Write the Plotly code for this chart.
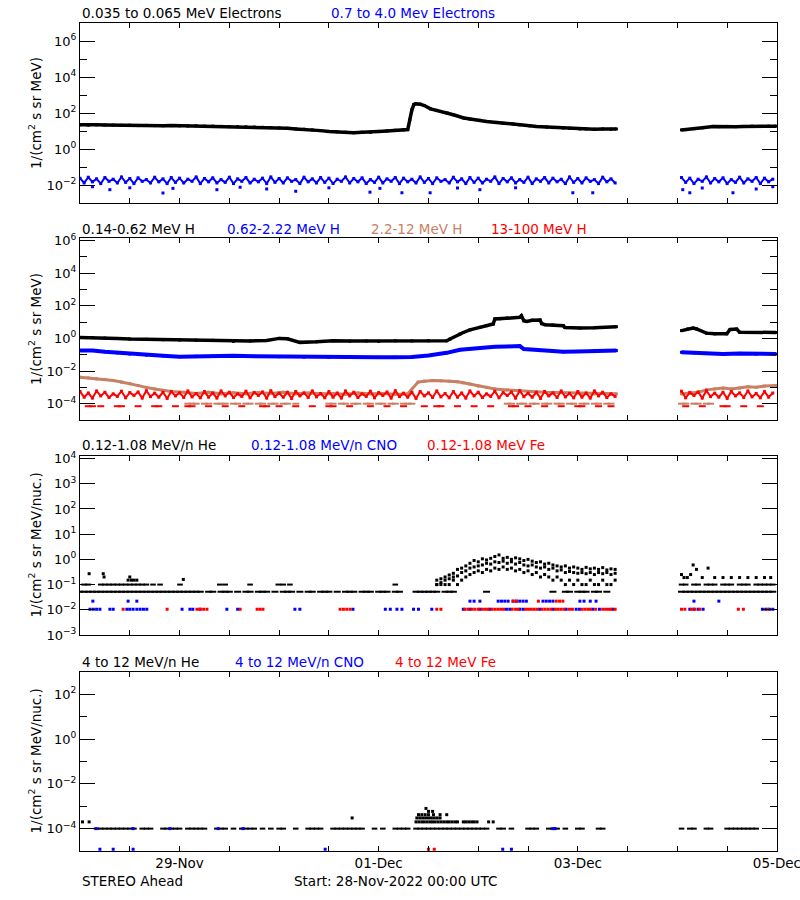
import plotly.graph_objects as go
from datetime import datetime, timedelta

START = datetime(2022, 11, 28)
END = datetime(2022, 12, 5, 0, 1)

# ---------------- DATA (hours since 28-Nov-2022 00:00 UTC) ----------------
T_HOURLY = list(range(0, 130)) + list(range(145, 168))

# Panel 1 : electrons
E_LO_T = [0,2,4,6,8,10,12,14,16,18,20,22,24,26,28,30,32,34,36,38,40,42,44,46,48,50,52,54,56,58,60,62,64,66,68,70,72,74,76,78,
          79,79.5,80,80.5,81,82,83,84.5,86,88.5,90,92.5,94,96.4,98,100.4,102,104.4,106,108.4,110,112.5,114,116.5,118,120.5,122,124,126,128,129.3,
          145,146,148,150,152.6,154,156,158,160,162,164,166,167.8]
E_LO_V = [22,21,22,21.5,21,20.5,21,20,20.5,20,19.5,20,19.5,19,19.5,18.5,18.5,18,17.5,17.5,17,16.5,16,15.5,14.7,14,13,12.5,11.5,10.5,
          9.5,9,8.5,8,8.5,8.5,9.5,10,11,11.5,
          12,42,150,300,330,310,260,170,140,100,80,53,46,39,34,30,27,24.5,22,19.5,18,16.6,15.5,14.7,14,13,13,12.5,13,12.5,13,
          11.5,12,13.5,15,18,17.5,18,17.5,18,18.5,18,18.5,18.5]
E_HI_V = [0.024,0.013,0.027,0.015,0.022,0.012,0.026,0.016,0.021,0.013,
          0.028,0.014,0.023,0.012,0.025,0.016,0.020,0.013,0.027,0.015,
          0.022,0.012,0.026,0.014,0.024,0.013,0.021,0.016,0.028,0.012,
          0.023,0.015,0.025,0.013,0.020,0.014,0.027,0.012,0.022,0.016,
          0.026,0.013,0.021,0.015,0.024,0.012,0.028,0.014,0.023,0.013,
          0.025,0.016,0.020,0.012,0.027,0.015,0.022,0.013,0.026,0.014,
          0.024,0.012,0.021,0.016,0.028,0.013,0.023,0.015,0.025,0.012,
          0.020,0.014,0.027,0.013,0.022,0.016,0.026,0.012,0.024,0.015,
          0.021,0.013,0.028,0.014,0.023,0.012,0.025,0.016,0.020,0.013,
          0.027,0.015,0.022,0.012,0.026,0.014,0.024,0.013,0.021,0.016,
          0.028,0.012,0.023,0.015,0.025,0.013,0.020,0.014,0.027,0.012,
          0.022,0.016,0.026,0.013,0.024,0.015,0.021,0.012,0.028,0.014,
          0.023,0.013,0.025,0.016,0.020,0.012,0.027,0.015,0.022,0.013,
          0.026,0.014,0.024,0.012,0.021,0.016,0.028,0.013,0.023,0.015,
          0.025,0.012,0.020,0.014,0.027,0.013,0.022,0.016,0.026,0.012,0.024,0.015,0.021]
E_HI_STRAY_T = [3,7.2,12,20,22.4,33,38.6,45,52,60,69.9,72.3,77.6,84.4,91,96.4,105,118.8,123.6,145.3,147,150,157.4,163,167]
E_HI_STRAY_V = [0.008,0.0055,0.007,0.0036,0.0065,0.0055,0.0075,0.006,0.0045,0.007,0.004,0.0065,0.0037,0.0037,0.0068,
                0.0055,0.007,0.0037,0.0037,0.0055,0.0037,0.0068,0.0037,0.006,0.008]

# Panel 2 : protons
H1_T = [0,3,6,9,12,16,20,24,28,32,37,41,45,48,50,53,57,61,65,69,72,76,80,84,88.4,89.2,91.6,92.4,94,96.4,
        98,99.6,100,101.2,103,106,106.4,107,107.7,109,110.9,111.3,112.1,114,116.5,116.9,120.5,124,129.3,
        145,146.5,147.8,148.6,151,153,155.9,156.7,158.3,159,162,165,167.8]
H1_V = [1.15,1.12,1.05,0.98,0.91,0.87,0.83,0.8,0.78,0.76,0.66,0.7,0.75,1.0,0.95,0.57,0.62,0.72,0.68,0.7,
        0.66,0.72,0.7,0.72,0.72,0.91,1.86,2.3,3.3,4.7,6.0,7.6,15.4,16,17.5,19.4,24.5,12,11,13,
        13.4,8,6.9,6.6,6.0,4.7,4.3,4.5,5.2,3.0,3.8,4.3,3.8,2.1,1.9,1.9,3.5,3.7,2.4,2.3,2.3,2.3]
H2_T = [0,3,6,9,12,16,20,24,28,32,37,42,48,54,60,66,72,76,80,84,88.4,91.6,94,96.4,100,103,106,107,108,110.9,
        114,116.5,120,124,129.3,145,148,151,155,159,163,167.8]
H2_V = [0.18,0.18,0.15,0.13,0.11,0.095,0.085,0.076,0.08,0.082,0.087,0.08,0.076,0.072,0.069,0.07,0.069,0.069,0.072,0.09,
        0.13,0.2,0.23,0.25,0.31,0.32,0.34,0.22,0.21,0.18,0.16,0.15,0.16,0.17,0.18,0.14,0.13,0.12,0.11,0.12,0.11,0.11]
H3_T = [0,2,4,6,8,10,12,14,16,18,20,22,25,28,31,34,37,40,43,46,49,52,55,58,61,64,67,70,73,76,79,
        81.5,83,85,87,89,91,92.4,94,96,98,100,103,106,109,112,115,118,121,124,127,129.3,
        145,147,149,151,153,155,157,159,161,163,165,167.8]
H3_V = [0.0042,0.0038,0.0033,0.003,0.0026,0.0021,0.0017,0.0013,0.001,0.0008,0.00065,0.00055,
        0.0005,0.00042,0.0005,0.0004,0.00046,0.0004,0.00048,0.00042,0.0005,0.0004,0.00045,0.0004,0.00042,0.00038,0.00045,0.0004,0.00042,0.00038,0.0004,
        0.0021,0.0024,0.0026,0.0025,0.0024,0.0022,0.0019,0.0016,0.0012,0.001,0.0008,
        0.0007,0.0006,0.00055,0.0005,0.00048,0.00045,0.00042,0.0004,0.00042,0.0004,
        0.0004,0.00045,0.0005,0.0007,0.0008,0.0009,0.0008,0.0009,0.0011,0.001,0.0012,0.0013]
H3_LOW_LEVEL = 1.0e-4
H3_LOW_T = [26,27,28,30,31,33,34,35,37,38,40,41,43,44,46,47,49,50,52,60,61,63,64,66,67,69,70,72,73,75,76,78,79,80,
            103,104,106,107,109,110,112,113,115,116,118,119,121,122,124,125,127,128,145,146,148,149,151,152]
H4_V = [5.5e-4,2.5e-4,4.5e-4,2.2e-4,6.0e-4,3.0e-4,5.0e-4,2.4e-4,4.0e-4,2.8e-4,
        5.8e-4,2.3e-4,4.8e-4,3.2e-4,5.2e-4,2.2e-4,6.2e-4,2.7e-4,4.4e-4,2.5e-4,
        5.0e-4,2.1e-4,5.6e-4,3.0e-4,4.6e-4,2.4e-4,6.0e-4,2.6e-4,4.2e-4,2.3e-4,
        5.5e-4,2.5e-4,4.5e-4,2.2e-4,6.0e-4,3.0e-4,5.0e-4,2.4e-4,4.0e-4,2.8e-4,
        5.8e-4,2.3e-4,4.8e-4,3.2e-4,5.2e-4,2.2e-4,6.2e-4,2.7e-4,4.4e-4,2.5e-4,
        5.0e-4,2.1e-4,5.6e-4,3.0e-4,4.6e-4,2.4e-4,6.0e-4,2.6e-4,4.2e-4,2.3e-4,
        5.5e-4,2.5e-4,4.5e-4,2.2e-4,6.0e-4,3.0e-4,5.0e-4,2.4e-4,4.0e-4,2.8e-4,
        5.8e-4,2.3e-4,4.8e-4,3.2e-4,5.2e-4,2.2e-4,6.2e-4,2.7e-4,4.4e-4,2.5e-4,
        5.0e-4,2.1e-4,5.6e-4,3.0e-4,4.6e-4,2.4e-4,6.0e-4,2.6e-4,4.2e-4,2.3e-4,
        5.5e-4,2.5e-4,4.5e-4,2.2e-4,6.0e-4,3.0e-4,5.0e-4,2.4e-4,4.0e-4,2.8e-4,
        5.8e-4,2.3e-4,4.8e-4,3.2e-4,5.2e-4,2.2e-4,6.2e-4,2.7e-4,4.4e-4,2.5e-4,
        5.0e-4,2.1e-4,5.6e-4,3.0e-4,4.6e-4,2.4e-4,6.0e-4,2.6e-4,4.2e-4,2.3e-4,
        5.5e-4,2.5e-4,4.5e-4,2.2e-4,6.0e-4,3.0e-4,5.0e-4,2.4e-4,4.0e-4,2.8e-4,
        5.8e-4,2.3e-4,4.8e-4,3.2e-4,5.2e-4,2.2e-4,6.2e-4,2.7e-4,4.4e-4,2.5e-4,
        5.0e-4,2.1e-4,5.6e-4,3.0e-4,4.6e-4,2.4e-4,6.0e-4,2.6e-4,4.2e-4,2.3e-4,5.5e-4,2.5e-4,4.5e-4]
H4_LOW_LEVEL = 7.0e-5
H4_LOW_T = [2,3,5,9,10,14,18,19,23,26,27,31,35,39,44,45,48,52,56,60,61,65,70,74,78,83,86,87,91,95,99,104,105,108,
            112,116,120,121,125,128,146,150,155,156,160,164]

# Panel 3 : 0.12-1.08 MeV/n heavy ions
HE3_BASE_LEVEL = 0.052
HE3_BASE_T = [0,1,2,3,4,5,6,7,8,9,10,11,12,13,14,15,16,17,18,19,20,21,22,23,24,25,26,27,28,29,
              31,32,34,35,36,38,40,41,43,44,45,47,49,50,51,53,55,56,58,59,60,62,64,65,66,68,69,70,72,73,74,76,77,
              81,82,83,84,85,86,88,89,90,98,114,117,118,120,121,122,124,125,127,
              145,146,147,148,149,150,151,152,153,154,155,156,157,158,159,160,161,162,163,164,165,166,167]
HE3_ONE_LEVEL = 0.1
HE3_ONE_T = [1,2,5,6,7,8,9,10,11,12,13,14,15,16,17.6,19.3,24.1,33.7,35,41,47.8,49,50.6,76,
             145,146,148,149,151,152,153,155,156,157,159,160,161,163,164,165,166,167]
HE3_SC_T = [2.2,5.6,5.8,11.6,12,12.4,13,13.7,24.9,145,145.6,146.4,147.2,147.8,148.6,150,151.4,153,155,157,159,161,163,165,166.5]
HE3_SC_V = [0.27,0.27,0.2,0.15,0.2,0.15,0.15,0.15,0.16,0.25,0.19,0.19,0.25,0.6,0.4,0.19,0.45,0.19,0.19,0.19,0.19,0.19,0.19,0.19,0.19]
HE3_EV_T = list(range(86, 130))
HE3_EV_A = [0.15,0.17,0.2,0.24,0.28,0.4,0.45,0.55,0.7,0.9,0.8,1.05,0.95,1.1,1.3,1.5,1.1,1.2,1.0,1.15,1.05,0.9,
            1.0,0.85,0.75,0.8,0.65,0.7,0.6,0.55,0.5,0.55,0.45,0.5,0.45,0.4,0.48,0.42,0.45,0.4,0.47,0.38,0.42,0.4]
HE3_EV_B = [0.1,0.12,0.15,0.17,0.2,0.22,0.3,0.35,0.45,0.5,0.55,0.6,0.7,0.65,0.8,0.75,0.85,0.7,0.8,0.65,0.75,0.6,
            0.55,0.6,0.5,0.45,0.5,0.4,0.45,0.35,0.38,0.3,0.33,0.3,0.28,0.3,0.27,0.3,0.25,0.3,0.27,0.3,0.25,0.28]
HE3_EV_C = [0.1,0.1,0.1,0.1,0.15,0.1,0.15,0.2,0.25,0.3,0.35,0.3,0.4,0.35,0.45,0.4,0.5,0.4,0.45,0.35,0.4,0.3,
            0.35,0.25,0.3,0.2,0.25,0.2,0.15,0.2,0.15,0.1,0.15,0.1,0.15,0.1,0.1,0.15,0.1,0.1,0.15,0.1,0.1,0.15]
CNO3_LO_LEVEL = 0.0105
CNO3_LO_T = [2.4,3.2,4,4.8,7.2,8,11.3,12,12.8,13.7,14.5,15.3,16.1,24.6,26.5,27.2,28.9,35.4,38,51.8,53,65.8,
             73.6,74.8,76.4,77.6,80.4,81.6,84.8,92.4,94,96.4,98.8,102.8,103.6,106,106.8,110.8,114,117.2,119.6,120.4,
             123.6,125.2,128.4,147,148,149,150.2,164.5,165.3,166.2,167]
CNO3_HI_LEVEL = 0.022
CNO3_HI_T = [3.1,11.6,13.7,94,95,96.4,100.8,101.6,102.4,103.2,104.4,105.2,106,106.8,107.6,111.6,112.4,113.2,114,
             120.5,121.5,123,124.4,148,154]
FE3_LO_LEVEL = 0.0105
FE3_LO_T = [10.4,21,28.2,29,29.8,30.6,38.6,42.7,43.4,44.1,62.7,63.5,64.3,65.1,86,87,
            92.8,93.5,94.5,95.2,96,97,97.7,98.3,99.3,100,100.7,101.4,102.1,104.2,105,105.6,107.4,108.1,108.8,109.5,
            110.2,111.4,112.1,112.8,113.5,114.6,115.3,116,116.7,118,118.7,121,121.7,122.4,123,124.3,126,126.7,127.4,
            128,129,145,145.8,147.4,148.2,149.4,158.7,159.9,165.8]
FE3_HI_LEVEL = 0.022
FE3_HI_T = [104.4,105.2,110.5,114.8,115.6,116.4]

# Panel 4 : 4-12 MeV/n heavy ions
HE4_BASE_LEVEL = 1.0e-4
HE4_BASE_T = [4,5,6,7,8,9,10,11,12,13,15,16,17,20,21,22,23,24,26,27,28,29,30,33,34,35,37,39,40,41,42,44,46,48,49,
              52,55,56,57,58,61,62,63,64,65,66,67,68,71,73,76,77,78,79,81,82,83,84,85,86,87,88,89,90,91,92,93,94,95,
              96,97,98,101,102,104,108,109,110,113,114,115,117,120,121,125,126,
              145,147,148,151,152,156,157,158,159,160,161,162,163]
HE4_SC_T = [0.6,2.2,65.6,
            81,81.7,82.4,83,83.7,84.4,85,85.6,86.3,87,87.7,88.4,89,89.7,90.4,91,92.4,93,93.7,94.4,95,95.7,98.5,99.6,
            81.2,81.9,82.6,83.3,84,84.7,85.4,86.1,86.8,
            81.6,82.4,83.2,84,85.2,86.8,88.4,
            84,85,83.4]
HE4_SC_V = [2e-4,2e-4,3e-4,
            2e-4,2e-4,2e-4,2e-4,2e-4,2e-4,2e-4,2e-4,2e-4,2e-4,2e-4,2e-4,2e-4,2e-4,2e-4,2e-4,2e-4,2e-4,2e-4,2e-4,2e-4,2e-4,2e-4,2e-4,
            3e-4,3e-4,3e-4,3e-4,3e-4,3e-4,3e-4,3e-4,3e-4,
            4.2e-4,4.2e-4,4.2e-4,4.2e-4,4.2e-4,4.2e-4,4.2e-4,
            5.9e-4,5.9e-4,8e-4]
CNO4_T = [3.9,12.8,21.7,33.3,39.3,114,114.5,4.8,8,12.8,59.1,101.9,104]
CNO4_V = [1e-4,1e-4,1e-4,1e-4,1e-4,1e-4,1e-4,1.2e-5,1.2e-5,1.2e-5,1.2e-5,1.2e-5,1.2e-5]
FE4_T = [84,85.4]
FE4_V = [1.2e-5,1.2e-5]

# Labels
P1_LABELS = [("0.035 to 0.065 MeV Electrons", 80, "black"), ("0.7 to 4.0 Mev Electrons", 329, "blue")]
P2_LABELS = [("0.14-0.62 MeV H", 80, "black"), ("0.62-2.22 MeV H", 225, "blue"),
             ("2.2-12 MeV H", 369, "rgb(200,128,100)"), ("13-100 MeV H", 489, "red")]
P3_LABELS = [("0.12-1.08 MeV/n He", 80, "black"), ("0.12-1.08 MeV/n CNO", 249, "blue"), ("0.12-1.08 MeV Fe", 425, "red")]
P4_LABELS = [("4 to 12 MeV/n He", 80, "black"), ("4 to 12 MeV/n CNO", 233, "blue"), ("4 to 12 MeV Fe", 393, "red")]

BROWN = "rgb(200,128,100)"
FONT = "DejaVu Sans"
W, H = 800, 900

# ---------------- helpers ----------------
def gapped(t, v, max_gap=10):
    xs, ys, prev = [], [], None
    for ti, vi in zip(t, v):
        if prev is not None and ti - prev > max_gap:
            xs.append(None); ys.append(None)
        xs.append(START + timedelta(hours=ti)); ys.append(vi); prev = ti
    return xs, ys

def tx(t):
    return [START + timedelta(hours=h) for h in t]

fig = go.Figure()

def line_trace(t, v, color, width, msize, ax):
    xs, ys = gapped(t, v)
    fig.add_trace(go.Scatter(x=xs, y=ys, mode="lines+markers", xaxis="x" + ax, yaxis="y" + ax,
                             line=dict(color=color, width=width),
                             marker=dict(symbol="square", size=msize, color=color, line=dict(width=0)),
                             connectgaps=False, showlegend=False, hoverinfo="skip"))

def dots(t, v, color, ax, size=3, symbol="square"):
    fig.add_trace(go.Scatter(x=tx(t), y=v, mode="markers", xaxis="x" + ax, yaxis="y" + ax,
                             marker=dict(symbol=symbol, size=size, color=color,
                                         line=dict(width=2 if symbol == "line-ew" else 0, color=color)),
                             showlegend=False, hoverinfo="skip"))

def level(t, lev, color, ax, size=5, symbol="line-ew"):
    dots(t, [lev for _ in t], color, ax, size=size, symbol=symbol)

# Panel 1
line_trace(T_HOURLY, E_HI_V, "blue", 2, 3, "")
dots(E_HI_STRAY_T, E_HI_STRAY_V, "blue", "")
line_trace(E_LO_T, E_LO_V, "black", 3.5, 3, "")

# Panel 2
line_trace(H1_T, H1_V, "black", 3.5, 3, "2")
line_trace(H2_T, H2_V, "blue", 4, 3, "2")
line_trace(H3_T, H3_V, BROWN, 3, 3, "2")
level(H3_LOW_T, H3_LOW_LEVEL, BROWN, "2")
line_trace(T_HOURLY, H4_V, "red", 2, 3, "2")
level(H4_LOW_T, H4_LOW_LEVEL, "red", "2")

# Panel 3
level(HE3_BASE_T, HE3_BASE_LEVEL, "black", "3")
level(HE3_ONE_T, HE3_ONE_LEVEL, "black", "3", size=4)
dots(HE3_SC_T, HE3_SC_V, "black", "3", size=3)
dots(HE3_EV_T, HE3_EV_A, "black", "3", size=3)
dots(HE3_EV_T, HE3_EV_B, "black", "3", size=3)
dots(HE3_EV_T, HE3_EV_C, "black", "3", size=3)
level(CNO3_LO_T, CNO3_LO_LEVEL, "blue", "3", size=3, symbol="square")
level(CNO3_HI_T, CNO3_HI_LEVEL, "blue", "3", size=3, symbol="square")
level(FE3_LO_T, FE3_LO_LEVEL, "red", "3", size=3, symbol="square")
level(FE3_HI_T, FE3_HI_LEVEL, "red", "3", size=3, symbol="square")

# Panel 4
level(HE4_BASE_T, HE4_BASE_LEVEL, "black", "4", size=4)
dots(HE4_SC_T, HE4_SC_V, "black", "4", size=3)
dots(CNO4_T, CNO4_V, "blue", "4", size=3)
dots(FE4_T, FE4_V, "red", "4", size=3)

# ---------------- axes ----------------
def sup(e):
    s = str(e).replace("-", "\u2212")
    return f"10<sup>{s}</sup>"

def yaxis(top_px, bot_px, rng, major, minor, anchor):
    d = dict(type="log", domain=[1 - bot_px / H, 1 - top_px / H], range=rng, anchor=anchor,
             automargin=False,
             tickmode="array", tickvals=[10.0 ** e for e in major], ticktext=[sup(e) for e in major],
             ticks="inside", ticklen=15, tickwidth=1, tickcolor="black",
             showline=True, linecolor="black", linewidth=1, mirror="ticks",
             showgrid=False, zeroline=False,
             tickfont=dict(family=FONT, size=13, color="black"))
    if minor:
        d["minor"] = dict(tickmode="array", tickvals=[10.0 ** e for e in minor], ticks="inside",
                          ticklen=7, tickwidth=1, tickcolor="black", showgrid=False)
    return d

def xaxis(top_px, bot_px, labels, anchor):
    return dict(type="date", domain=[80 / W, 777 / W], range=[START, END], anchor=anchor,
                automargin=False, ticklabeloverflow="allow",
                tickmode="linear", tick0="2022-11-29", dtick=2 * 86400000, tickformat="%d-%b",
                ticks="inside", ticklen=5, tickwidth=1, tickcolor="black",
                showline=True, linecolor="black", linewidth=1, mirror="ticks",
                showgrid=False, zeroline=False, showticklabels=labels,
                minor=dict(dtick=43200000, ticks="inside", ticklen=5, tickwidth=1, tickcolor="black", showgrid=False),
                tickfont=dict(family=FONT, size=13.5, color="black"))

PANELS = [(23, 203, [-3, 7], [-2, 0, 2, 4, 6], [-1, 1, 3, 5], ""),
          (238, 420, [-5, 6.15], [-4, -2, 0, 2, 4, 6], [-3, -1, 1, 3, 5], "2"),
          (456, 635, [-3, 4.1], [-3, -2, -1, 0, 1, 2, 3, 4], [], "3"),
          (672, 851, [-5, 3], [-4, -2, 0, 2], [-3, -1, 1], "4")]

layout = dict(width=W, height=H, margin=dict(l=0, r=0, t=0, b=0, autoexpand=False),
              paper_bgcolor="white", plot_bgcolor="white", showlegend=False,
              font=dict(family=FONT, size=13.5, color="black"))
for top, bot, rng, major, minor, k in PANELS:
    layout["xaxis" + k] = xaxis(top, bot, k == "4", "y" + k)
    layout["yaxis" + k] = yaxis(top, bot, rng, major, minor, "x" + k)
fig.update_layout(**layout)

anns = []
for labels, ypx in [(P1_LABELS, 13), (P2_LABELS, 229), (P3_LABELS, 445), (P4_LABELS, 661.5)]:
    for txt, xpx, col in labels:
        anns.append(dict(text=txt, x=xpx / W, y=1 - ypx / H, xref="paper", yref="paper",
                         xanchor="left", yanchor="middle", showarrow=False,
                         font=dict(family=FONT, size=13.5, color=col)))
for top, bot, rng, major, minor, k in PANELS:
    t = "1/(cm<sup>2</sup> s sr MeV)" if k in ("", "2") else "1/(cm<sup>2</sup> s sr MeV/nuc.)"
    anns.append(dict(text=t, x=35 / W, y=1 - (top + bot) / 2 / H, xref="paper", yref="paper",
                     xanchor="center", yanchor="middle", textangle=-90, showarrow=False,
                     font=dict(family=FONT, size=13.5, color="black")))
anns.append(dict(text="STEREO Ahead", x=80 / W, y=1 - 881 / H, xref="paper", yref="paper",
                 xanchor="left", yanchor="middle", showarrow=False, font=dict(family=FONT, size=13.5)))
anns.append(dict(text="Start: 28-Nov-2022 00:00 UTC", x=292 / W, y=1 - 881 / H, xref="paper", yref="paper",
                 xanchor="left", yanchor="middle", showarrow=False, font=dict(family=FONT, size=13.5)))
fig.update_layout(annotations=anns)

fig.write_html("out.html", config={"displayModeBar": False, "responsive": False},
               post_script="document.body.style.margin='0px';document.body.style.overflow='hidden';")
